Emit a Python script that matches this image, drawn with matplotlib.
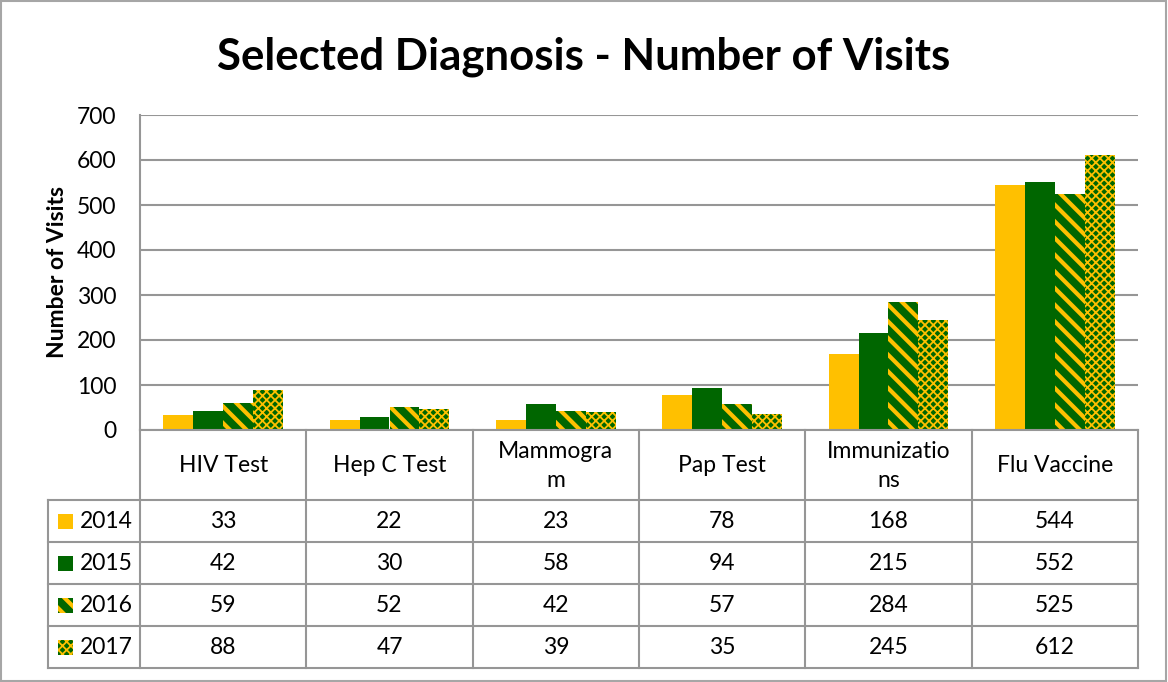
import matplotlib.pyplot as plt
import numpy as np

plt.rcParams['font.family'] = ['Lato', 'DejaVu Sans']

# categories (wrapped as in the reference table) and series
categories = ["HIV Test", "Hep C Test", "Mammogra\nm", "Pap Test", "Immunizatio\nns", "Flu Vaccine"]
years = ["2014", "2015", "2016", "2017"]
v2014 = [33, 22, 23, 78, 168, 544]
v2015 = [42, 30, 58, 94, 215, 552]
v2016 = [59, 52, 42, 57, 284, 525]
v2017 = [88, 47, 39, 35, 245, 612]
series = [v2014, v2015, v2016, v2017]

YELLOW = "#FFC000"
GREEN = "#006600"
GRID = "#969696"
styles = [
    dict(color=YELLOW, hatch=None, edge=YELLOW, hlw=1.0),
    dict(color=GREEN, hatch=None, edge=GREEN, hlw=1.0),
    dict(color=GREEN, hatch="\\\\", edge=YELLOW, hlw=3.0),
    dict(color=GREEN, hatch="xxxx", edge=YELLOW, hlw=1.3),
]


def hatched(patch, st):
    if st["hatch"]:
        patch.set_hatch(st["hatch"])
        patch.set_edgecolor(st["edge"])
        patch.set_linewidth(0)
        if hasattr(patch, "set_hatch_linewidth"):
            patch.set_hatch_linewidth(st["hlw"])


W, H = 1168, 682
fig = plt.figure(figsize=(W / 100, H / 100), dpi=100)

# pixel layout
x0, x1 = 140, 1138
y_top, y_axis, y_bot = 115, 430, 668
ax = fig.add_axes([x0 / W, 1 - y_axis / H, (x1 - x0) / W, (y_axis - y_top) / H])

n = len(categories)
bw = 0.18
x = np.arange(n) + 0.5
for k, (vals, st) in enumerate(zip(series, styles)):
    with plt.rc_context({"hatch.linewidth": st["hlw"]}):
        b = ax.bar(x + (k - 1.5) * bw, vals, bw, color=st["color"], label=years[k], zorder=3)
        for r in b:
            hatched(r, st)

ax.set_xlim(0, n)
ax.set_ylim(0, 700)
ax.set_yticks(np.arange(0, 701, 100))
ax.yaxis.grid(True, color=GRID, linewidth=1.5, zorder=0)
ax.set_xticks([])
for s in ["top", "right", "bottom"]:
    ax.spines[s].set_visible(False)
ax.spines["left"].set_color(GRID)
ax.spines["left"].set_linewidth(1.5)
ax.tick_params(axis="y", length=0, labelsize=16.5, pad=17)
ax.set_ylabel("Number of Visits", fontsize=16.5, fontweight="bold", labelpad=6)

fig.suptitle("Selected Diagnosis - Number of Visits", fontsize=31.5, fontweight="bold", y=0.947)

# data table below the plot
tab = fig.add_axes([x0 / W, 1 - y_bot / H, (x1 - x0) / W, (y_bot - y_axis) / H])
tab.set_xlim(0, n)
rows_h = y_bot - y_axis
tab.set_ylim(rows_h, 0)
tab.axis("off")
unit = (x1 - x0) / n
left = -(x0 - 48) / unit
head_h = 70
row_h = 42
lw = 1.5
tab.plot([0, n], [0, 0], color=GRID, lw=lw, clip_on=False)
for i in range(n + 1):
    tab.plot([i, i], [0, rows_h], color=GRID, lw=lw, clip_on=False)
tab.plot([left, left], [head_h, rows_h], color=GRID, lw=lw, clip_on=False)
for j in range(len(years) + 1):
    yy = head_h + j * row_h
    tab.plot([left, n], [yy, yy], color=GRID, lw=lw, clip_on=False)

for i, c in enumerate(categories):
    tab.text(i + 0.5, head_h / 2 + 1, c, ha="center", va="center", fontsize=16.5, linespacing=1.45)
for j, (vals, st) in enumerate(zip(series, styles)):
    yc = head_h + (j + 0.5) * row_h
    for i, v in enumerate(vals):
        tab.text(i + 0.5, yc, str(v), ha="center", va="center", fontsize=16.5)
    with plt.rc_context({"hatch.linewidth": st["hlw"]}):
        sq = plt.Rectangle((left + 0.06, yc - 7.5), 0.09, 15, facecolor=st["color"],
                           edgecolor=st["edge"], linewidth=0, clip_on=False)
        hatched(sq, st)
        tab.add_patch(sq)
    tab.text(left + 0.19, yc, years[j], ha="left", va="center", fontsize=16.5)

# outer chart border
fig.patches.append(plt.Rectangle((0.001, 0.001), 0.997, 0.997, transform=fig.transFigure,
                                 fill=False, edgecolor="#A6A6A6", lw=1.5))

fig.savefig("out.png", dpi=100)
